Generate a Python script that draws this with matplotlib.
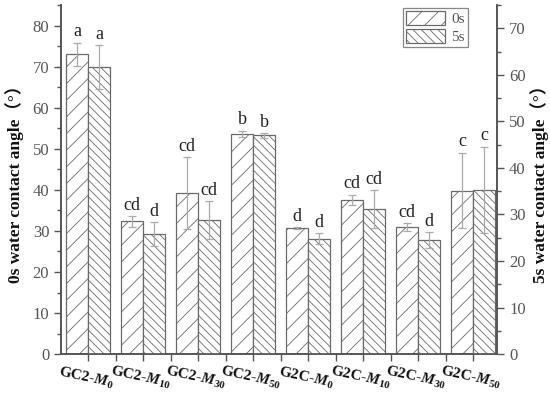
import matplotlib
matplotlib.use("Agg")
import matplotlib.pyplot as plt
import numpy as np
from matplotlib.ticker import MultipleLocator

groups = [
    r"GC2-$\mathbfit{M}_{\mathbf{0}}$",
    r"GC2-$\mathbfit{M}_{\mathbf{10}}$",
    r"GC2-$\mathbfit{M}_{\mathbf{30}}$",
    r"GC2-$\mathbfit{M}_{\mathbf{50}}$",
    r"G2C-$\mathbfit{M}_{\mathbf{0}}$",
    r"G2C-$\mathbfit{M}_{\mathbf{10}}$",
    r"G2C-$\mathbfit{M}_{\mathbf{30}}$",
    r"G2C-$\mathbfit{M}_{\mathbf{50}}$",
]
# 0s values on the left axis
angle_0s = [73.0, 32.3, 39.2, 53.6, 30.7, 37.6, 31.0, 39.8]
err_0s = [2.8, 1.3, 8.8, 0.8, 0.2, 1.2, 0.9, 9.2]
letters_0s = ["a", "cd", "cd", "b", "d", "cd", "cd", "c"]
# 5s values on the right axis
angle_5s = [61.7, 25.8, 28.8, 47.0, 24.8, 31.2, 24.5, 35.3]
err_5s = [4.7, 2.6, 4.1, 0.5, 1.2, 4.1, 1.7, 9.3]
letters_5s = ["a", "d", "cd", "b", "d", "cd", "d", "c"]

serif = ["Liberation Serif", "Noto Sans CJK SC", "DejaVu Serif"]
plt.rcParams["font.family"] = serif
plt.rcParams["mathtext.fontset"] = "custom"
plt.rcParams["mathtext.rm"] = "Liberation Serif"
plt.rcParams["mathtext.bf"] = "Liberation Serif:bold"
plt.rcParams["mathtext.bfit"] = "Liberation Serif:bold:italic"
plt.rcParams["hatch.linewidth"] = 0.6

edge = "#6a6a6a"
tick_col = "#555555"

fig = plt.figure(figsize=(5.5, 3.93), dpi=100)
ax = fig.add_axes([0.111, 0.099, 0.793, 0.888])
ax2 = ax.twinx()

x = np.arange(len(groups))
w = 0.4

ax.bar(x - w / 2, angle_0s, w, facecolor="white", edgecolor=edge, hatch="//",
       linewidth=0.9, label="0s", zorder=2)
ax.errorbar(x - w / 2, angle_0s, yerr=err_0s, fmt="none", ecolor="#aaaaaa",
            elinewidth=0.9, capsize=3, capthick=0.9, zorder=3)
ax2.bar(x + w / 2, angle_5s, w, facecolor="white", edgecolor=edge, hatch="\\\\\\\\",
        linewidth=0.9, label="5s", zorder=2)
ax2.errorbar(x + w / 2, angle_5s, yerr=err_5s, fmt="none", ecolor="#aaaaaa",
             elinewidth=0.9, capsize=3, capthick=0.9, zorder=3)

for xi, v, e, t in zip(x, angle_0s, err_0s, letters_0s):
    ax.text(xi - w / 2, v + e + 0.6, t, ha="center", va="bottom", fontsize=13,
            color="#222222")
for xi, v, e, t in zip(x, angle_5s, err_5s, letters_5s):
    ax2.text(xi + w / 2, v + e + 0.5, t, ha="center", va="bottom", fontsize=13,
             color="#222222")

ax.set_xlim(-0.49, 7.44)
ax.set_ylim(0, 85)
ax2.set_ylim(0, 75)

ax.yaxis.set_major_locator(MultipleLocator(10))
ax.yaxis.set_minor_locator(MultipleLocator(5))
ax2.yaxis.set_major_locator(MultipleLocator(10))
ax2.yaxis.set_minor_locator(MultipleLocator(5))

ax.set_xticks(x)
ax.set_xticks(x[:-1] + 0.5, minor=True)

for a in (ax, ax2):
    a.spines["top"].set_visible(False)
    for s in a.spines.values():
        s.set_color(tick_col)
        s.set_linewidth(1.2)
    a.tick_params(axis="y", which="major", length=5, width=1, color=tick_col,
                  labelcolor=tick_col, labelsize=12)
    a.tick_params(axis="y", which="minor", length=3, width=1, color=tick_col)
ax.tick_params(axis="x", which="both", length=5, width=1, color=tick_col, pad=6)
ax.set_xticklabels(groups, rotation=-12, ha="center", rotation_mode="anchor",
                   fontsize=11, fontweight="bold", color="#111111")

ax.set_ylabel("0s water contact angle（°）", fontsize=12.5, fontweight="bold",
              family=serif, color="#111111", labelpad=6)
ax2.set_ylabel("5s water contact angle（°）", fontsize=12.5, fontweight="bold",
               family=serif, color="#111111", labelpad=3)

h1, l1 = ax.get_legend_handles_labels()
h2, l2 = ax2.get_legend_handles_labels()
leg = ax2.legend(h1 + h2, l1 + l2, loc="upper right", bbox_to_anchor=(0.94, 1.0),
                 fancybox=False, edgecolor=edge, fontsize=11, handlelength=2.6,
                 handleheight=1.0, borderpad=0.2, labelspacing=0.2,
                 handletextpad=0.4, borderaxespad=0.2)
leg.get_frame().set_linewidth(0.9)
for t in leg.get_texts():
    t.set_color(tick_col)

fig.savefig("out.png", dpi=100)
